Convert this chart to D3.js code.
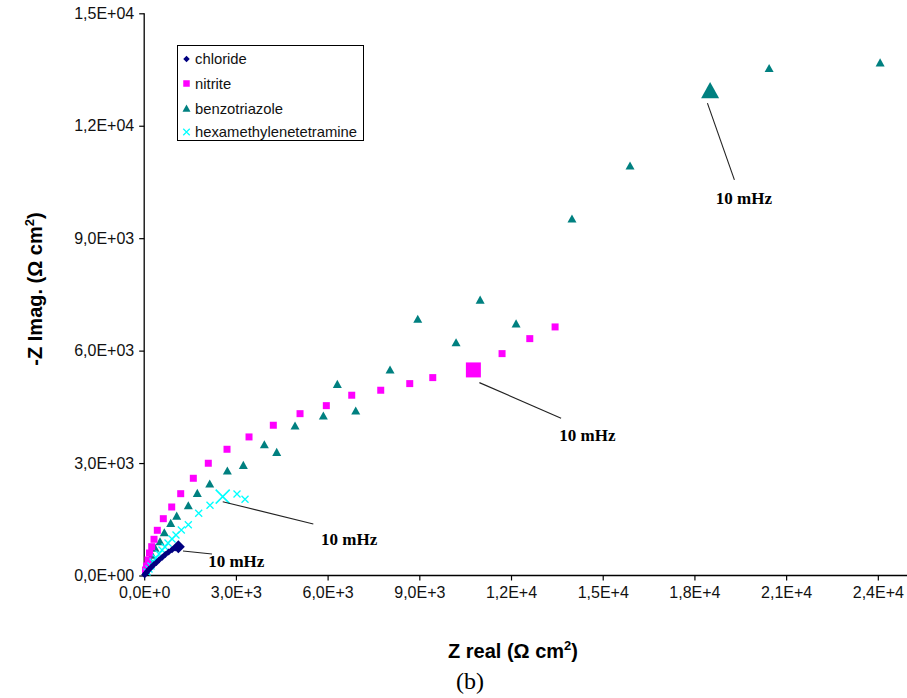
<!DOCTYPE html>
<html><head><meta charset="utf-8">
<script src="https://cdn.jsdelivr.net/npm/d3@7"></script>
<style>html,body{margin:0;padding:0;background:#fff;}svg{display:block;}</style>
</head><body>
<svg id="chart" width="907" height="698"></svg>
<script>
// ---------------- data ----------------
const seriesNames = ["chloride", "nitrite", "benzotriazole", "hexamethylenetetramine"];
const xTicks = [0, 3000, 6000, 9000, 12000, 15000, 18000, 21000, 24000];
const xTickLabels = ["0,0E+0", "3,0E+3", "6,0E+3", "9,0E+3", "1,2E+4", "1,5E+4", "1,8E+4", "2,1E+4", "2,4E+4"];
const yTicks = [0, 3000, 6000, 9000, 12000, 15000];
const yTickLabels = ["0,0E+00", "3,0E+03", "6,0E+03", "9,0E+03", "1,2E+04", "1,5E+04"];

const chlorideX = [15, 50, 100, 160, 230, 310, 400, 490, 590, 690, 800, 910, 1010, 1117];
const chlorideY = [20, 60, 110, 165, 220, 285, 350, 420, 490, 560, 630, 690, 735, 769];

const nitriteX = [42, 75, 124, 173, 245, 321, 429, 625, 900, 1194, 1607, 2097, 2709, 3429, 4224, 5098, 5958, 6789, 7738, 8687, 9440, 10769, 11707, 12614, 13442];
const nitriteY = [147, 254, 414, 600, 769, 966, 1206, 1516, 1828, 2183, 2594, 2995, 3368, 3697, 4009, 4318, 4532, 4810, 4943, 5120, 5280, 5485, 5920, 6320, 6632];

const benzoX = [59, 124, 190, 255, 353, 517, 658, 867, 1063, 1443, 1737, 2143, 2719, 3243, 3930, 4335, 4934, 5860, 6318, 6920, 8043, 8949, 10202, 10990, 12166, 13995, 15893, 18513, 20443, 24075];
const benzoY = [120, 254, 414, 547, 734, 902, 1142, 1393, 1588, 1863, 2194, 2442, 2789, 2941, 3491, 3288, 3990, 4257, 5103, 4391, 5485, 6838, 6213, 7350, 6715, 9515, 10930, 12930, 13530, 13680];

const hexaX = [92, 157, 222, 288, 386, 484, 582, 681, 779, 910, 1040, 1214, 1443, 1783, 2153, 2568, 3036, 3298];
const hexaY = [93, 173, 254, 360, 467, 574, 681, 761, 867, 974, 1081, 1214, 1356, 1660, 1874, 2104, 2175, 2034];

// index of the 10 mHz point in each series
const lowFreqIndex = [13, 21, 27, 15];

// 10 mHz annotations: line from (x1,y1) to (x2,y2), label at (lx,ly), data units
const annotX1 = [1270, 10965, 18425, 2569];
const annotY1 = [654, 5146, 12603, 1970];
const annotX2 = [2218, 13638, 19308, 5533];
const annotY2 = [574, 4196, 10556, 1375];
const annotLX = [2094, 13582, 18700, 5785];
const annotLY = [227, 3600, 9899, 825];
const annotText = "10 mHz";

// ---------------- drawing ----------------
const svg = d3.select("#chart");
const colors = ["#000080", "#FF00FF", "#008080", "#00FFFF"];
const shapes = ["diamond", "square", "triangle", "x"];

const x = d3.scaleLinear().domain([0, 25000]).range([144.2, 908.4]);
const y = d3.scaleLinear().domain([0, 15000]).range([575.5, 13.3]);

function shapePath(kind, s) {
  const h = s / 2;
  if (kind === "square") return `M${-h},${-h}H${h}V${h}H${-h}Z`;
  if (kind === "diamond") return `M0,${-h}L${h},0L0,${h}L${-h},0Z`;
  if (kind === "triangle") { const t = s * 0.9; return `M0,${-t * 0.55}L${h},${t * 0.45}L${-h},${t * 0.45}Z`; }
  return `M${-h},${-h}L${h},${h}M${h},${-h}L${-h},${h}`;
}
const baseSize = [7, 7, 9, 7];
const bigSize = [13, 15, 18, 14];

// axes
const xAxis = d3.axisBottom(x).tickValues(xTicks).tickSize(5).tickPadding(6)
  .tickFormat((d, i) => xTickLabels[i]);
const yAxis = d3.axisLeft(y).tickValues(yTicks).tickSize(5).tickPadding(5)
  .tickFormat((d, i) => yTickLabels[i]);

const gx = svg.append("g").attr("transform", `translate(0,${y(0)})`).call(xAxis);
const gy = svg.append("g").attr("transform", `translate(${x(0)},0)`).call(yAxis);
[gx, gy].forEach(g => {
  g.select(".domain").attr("stroke", "#000").attr("stroke-width", 1.3);
  g.selectAll(".tick line").attr("stroke", "#000").attr("stroke-width", 1.2);
  g.selectAll(".tick text").attr("fill", "#111").style("font-family", "Arial, 'Liberation Sans', sans-serif").style("font-size", "16px");
});
gx.select(".domain").attr("d", `M${x(0)},0H${x(25000)}`);
gy.select(".domain").attr("d", `M0,${y(0)}V${y(15000)}`);

// series
const seriesData = [
  [chlorideX, chlorideY], [nitriteX, nitriteY], [benzoX, benzoY], [hexaX, hexaY]
];
// draw in order: benzo, nitrite, hexa, chloride (chloride on top)
[2, 1, 3, 0].forEach(si => {
  const [xs, ys] = seriesData[si];
  const pts = xs.map((v, i) => ({ x: v, y: ys[i], big: i === lowFreqIndex[si] }));
  const g = svg.append("g");
  const sel = g.selectAll("path").data(pts).join("path")
    .attr("transform", d => `translate(${x(d.x)},${y(d.y)})`)
    .attr("d", d => shapePath(shapes[si], d.big ? bigSize[si] : baseSize[si]));
  if (shapes[si] === "x") sel.attr("fill", "none").attr("stroke", colors[si]).attr("stroke-width", d => d.big ? 1.6 : 1.3);
  else sel.attr("fill", colors[si]).attr("stroke", "none");
});

// annotations
const annG = svg.append("g");
annotX1.forEach((v, i) => {
  annG.append("line")
    .attr("x1", x(v)).attr("y1", y(annotY1[i]))
    .attr("x2", x(annotX2[i])).attr("y2", y(annotY2[i]))
    .attr("stroke", "#222").attr("stroke-width", 1.1);
  annG.append("text")
    .attr("x", x(annotLX[i])).attr("y", y(annotLY[i]))
    .style("font-family", "'Times New Roman', 'Liberation Serif', serif")
    .style("font-size", "17px").style("font-weight", "bold").attr("fill", "#000")
    .text(annotText);
});

// legend
const lg = svg.append("g");
lg.append("rect").attr("x", 177.5).attr("y", 45.5).attr("width", 186).attr("height", 95)
  .attr("fill", "#fff").attr("stroke", "#000").attr("stroke-width", 1);
const legendY = [59, 83.5, 108.5, 132];
seriesNames.forEach((n, i) => {
  const p = lg.append("path")
    .attr("transform", `translate(186.5,${legendY[i]})`)
    .attr("d", shapePath(shapes[i], i === 2 ? 8 : 6.5));
  if (shapes[i] === "x") p.attr("fill", "none").attr("stroke", colors[i]).attr("stroke-width", 1.2);
  else p.attr("fill", colors[i]);
  lg.append("text").attr("x", 195).attr("y", legendY[i] + 5)
    .style("font-family", "Arial, 'Liberation Sans', sans-serif").style("font-size", "14.8px")
    .attr("fill", "#111").text(n);
});

// axis titles
const xt = svg.append("text").attr("x", 513).attr("y", 658).attr("text-anchor", "middle")
  .style("font-family", "Arial, 'Liberation Sans', sans-serif").style("font-size", "20px").style("font-weight", "bold").attr("fill", "#000");
xt.append("tspan").text("Z real (Ω cm");
xt.append("tspan").attr("dy", -8).style("font-size", "13px").text("2");
xt.append("tspan").attr("dy", 8).text(")");

const yt = svg.append("text").attr("transform", "translate(42,289) rotate(-90)").attr("text-anchor", "middle")
  .style("font-family", "Arial, 'Liberation Sans', sans-serif").style("font-size", "20px").style("font-weight", "bold").attr("fill", "#000");
yt.append("tspan").text("-Z Imag. (Ω cm");
yt.append("tspan").attr("dy", -8).style("font-size", "13px").text("2");
yt.append("tspan").attr("dy", 8).text(")");

svg.append("text").attr("x", 470).attr("y", 689).attr("text-anchor", "middle")
  .style("font-family", "'Times New Roman', 'Liberation Serif', serif").style("font-size", "24px").attr("fill", "#000")
  .text("(b)");
</script>
</body></html>
